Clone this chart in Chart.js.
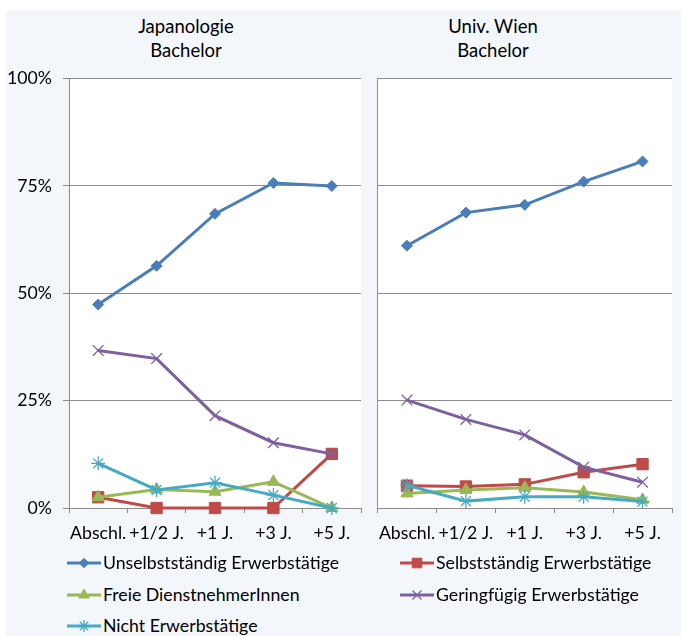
<!DOCTYPE html>
<html>
<head>
<meta charset="utf-8">
<script src="https://cdn.jsdelivr.net/npm/chart.js@4/dist/chart.umd.min.js"></script>
<style>
    body { margin: 0; background: #ffffff; font-family: Lato, "Liberation Sans", sans-serif; }
    #lienzo { position: relative; width: 681px; height: 636px; overflow: hidden; }
    #fondo { position: absolute; left: 6px; top: 10px; right: 0; bottom: 0; background: #f3f7fc; }
    .titel { position: absolute; top: 14px; width: 240px; text-align: center; font-size: 18.5px; line-height: 24px; color: #000; }
    .panel { position: absolute; height: 500px; }
    .eintrag { position: absolute; height: 20px; font-size: 17.7px; line-height: 20px; color: #000; white-space: nowrap; }
    .eintrag canvas { position: absolute; left: 0; top: 0; }
    .eintrag span { position: absolute; left: 36px; top: 0; }
</style>
</head>
<body>
<div id="lienzo">
    <div id="fondo"></div>
    <div class="titel" style="left: 66px">Japanologie<br>Bachelor</div>
    <div class="titel" style="left: 373px">Univ. Wien<br>Bachelor</div>
    <canvas id="chartJap" class="panel" style="left: 6px; top: 57px" width="364" height="500"></canvas>
    <canvas id="chartWien" class="panel" style="left: 368px; top: 60px" width="313" height="500"></canvas>
    <div id="legende"></div>
</div>
<script>
const kategorien = ["Abschl.", "+1/2 J.", "+1 J.", "+3 J.", "+5 J."]
const yTicks = [0, 25, 50, 75, 100]

const serienNamen = ["Unselbstständig Erwerbstätige", "Selbstständig Erwerbstätige", "Freie DienstnehmerInnen", "Geringfügig Erwerbstätige", "Nicht Erwerbstätige"]

/// Japanologie Bachelor (in %)
const unselbstJap = [47.4, 56.4, 68.5, 75.7, 75.0]
const selbstJap = [2.5, 0, 0, 0, 12.6]
const freieJap = [2.5, 4.3, 3.8, 6.1, 0]
const geringJap = [36.7, 34.8, 21.5, 15.2, 12.6]
const nichtJap = [10.4, 4.2, 5.9, 3.0, 0]

/// Univ. Wien Bachelor (in %)
const unselbstWien = [61.0, 68.7, 70.5, 75.9, 80.6]
const selbstWien = [5.2, 5.0, 5.5, 8.3, 10.2]
const freieWien = [3.4, 4.2, 4.7, 3.7, 1.9]
const geringWien = [25.1, 20.6, 17.0, 9.5, 6.0]
const nichtWien = [5.3, 1.6, 2.6, 2.6, 1.5]

const farben = ["#4a7ebb", "#be4b48", "#98b954", "#7d60a0", "#46aac5"]
const punktStile = ["rectRot", "rect", "triangle", "crossRot", "star"]
const punktRadien = [5.5, 8, 7, 7.5, 7]
const punktRand = [1, 1, 1, 1.3, 1.3]

const gitterFarbe = "#8c8c8c"


///DATASETS AUS DEN ARRAYS BAUEN
function baueDatasets(reihen) {
    return reihen.map((werte, i) => ({
        label: serienNamen[i],
        data: werte,
        borderColor: farben[i],
        backgroundColor: farben[i],
        borderWidth: 3,
        pointStyle: punktStile[i],
        pointRadius: punktRadien[i],
        pointBorderWidth: punktRand[i],
        pointBackgroundColor: farben[i],
        pointBorderColor: farben[i],
        tension: 0,
        clip: false,
        order: reihen.length - i
    }))
}


///WEISSE ZEICHENFLÄCHE
const weisseFlaeche = {
    id: "weisseFlaeche",
    beforeDraw(chart) {
        const { ctx, chartArea } = chart
        ctx.save()
        ctx.fillStyle = "#ffffff"
        ctx.fillRect(chartArea.left, chartArea.top, chartArea.right - chartArea.left, chartArea.bottom - chartArea.top)
        ctx.restore()
    }
}


///OPTIONEN FÜR EIN PANEL
function baueOptionen(mitBeschriftung, breiteY, rechts, hoeheX) {
    return {
        responsive: false,
        animation: false,
        layout: { padding: { top: 18, right: rechts, left: 0, bottom: 0 } },
        plugins: { legend: { display: false }, tooltip: { enabled: false } },
        scales: {
            x: {
                offset: true,
                grid: { drawOnChartArea: false, drawTicks: true, tickLength: 5, offset: true, color: gitterFarbe },
                border: { color: gitterFarbe },
                ticks: { color: "#000", font: { family: "Lato", size: 17.7 }, padding: 10, maxRotation: 0, autoSkip: false },
                afterFit: (s) => { s.height = hoeheX }
            },
            y: {
                min: 0,
                max: 100,
                afterBuildTicks: (s) => { s.ticks = yTicks.map((v) => ({ value: v })) },
                grid: { color: gitterFarbe, drawTicks: mitBeschriftung, tickLength: 6 },
                border: { color: gitterFarbe, display: true },
                ticks: {
                    display: mitBeschriftung,
                    color: "#000",
                    font: { family: "Lato", size: 17.7 },
                    padding: 11,
                    callback: (v) => v + "%"
                },
                afterFit: (s) => { s.width = breiteY }
            }
        }
    }
}


///DIAGRAMME ZEICHNEN
new Chart(document.getElementById("chartJap"), {
    type: "line",
    data: { labels: kategorien, datasets: baueDatasets([unselbstJap, selbstJap, freieJap, geringJap, nichtJap]) },
    options: baueOptionen(true, 63, 2, 49),
    plugins: [weisseFlaeche]
})

new Chart(document.getElementById("chartWien"), {
    type: "line",
    data: { labels: kategorien, datasets: baueDatasets([unselbstWien, selbstWien, freieWien, geringWien, nichtWien]) },
    options: baueOptionen(false, 5, 0, 52),
    plugins: [weisseFlaeche]
})


///LEGENDE
const legendePos = [[67, 553], [400, 553], [67, 585], [400, 585], [67, 616]]
const legende = document.getElementById("legende")

serienNamen.forEach((name, i) => {
    const div = document.createElement("div")
    div.className = "eintrag"
    div.style.left = legendePos[i][0] + "px"
    div.style.top = legendePos[i][1] + "px"
    const c = document.createElement("canvas")
    c.width = 34
    c.height = 20
    const span = document.createElement("span")
    span.textContent = name
    div.appendChild(c)
    div.appendChild(span)
    legende.appendChild(div)

    const ctx = c.getContext("2d")
    ctx.strokeStyle = farben[i]
    ctx.lineWidth = 3
    ctx.beginPath()
    ctx.moveTo(0, 10)
    ctx.lineTo(34, 10)
    ctx.stroke()
    ctx.fillStyle = farben[i]
    ctx.lineWidth = punktRand[i]
    Chart.helpers.drawPoint(ctx, { pointStyle: punktStile[i], radius: punktRadien[i] * 0.85, borderWidth: punktRand[i], rotation: 0 }, 17, 10)
})
</script>
</body>
</html>
